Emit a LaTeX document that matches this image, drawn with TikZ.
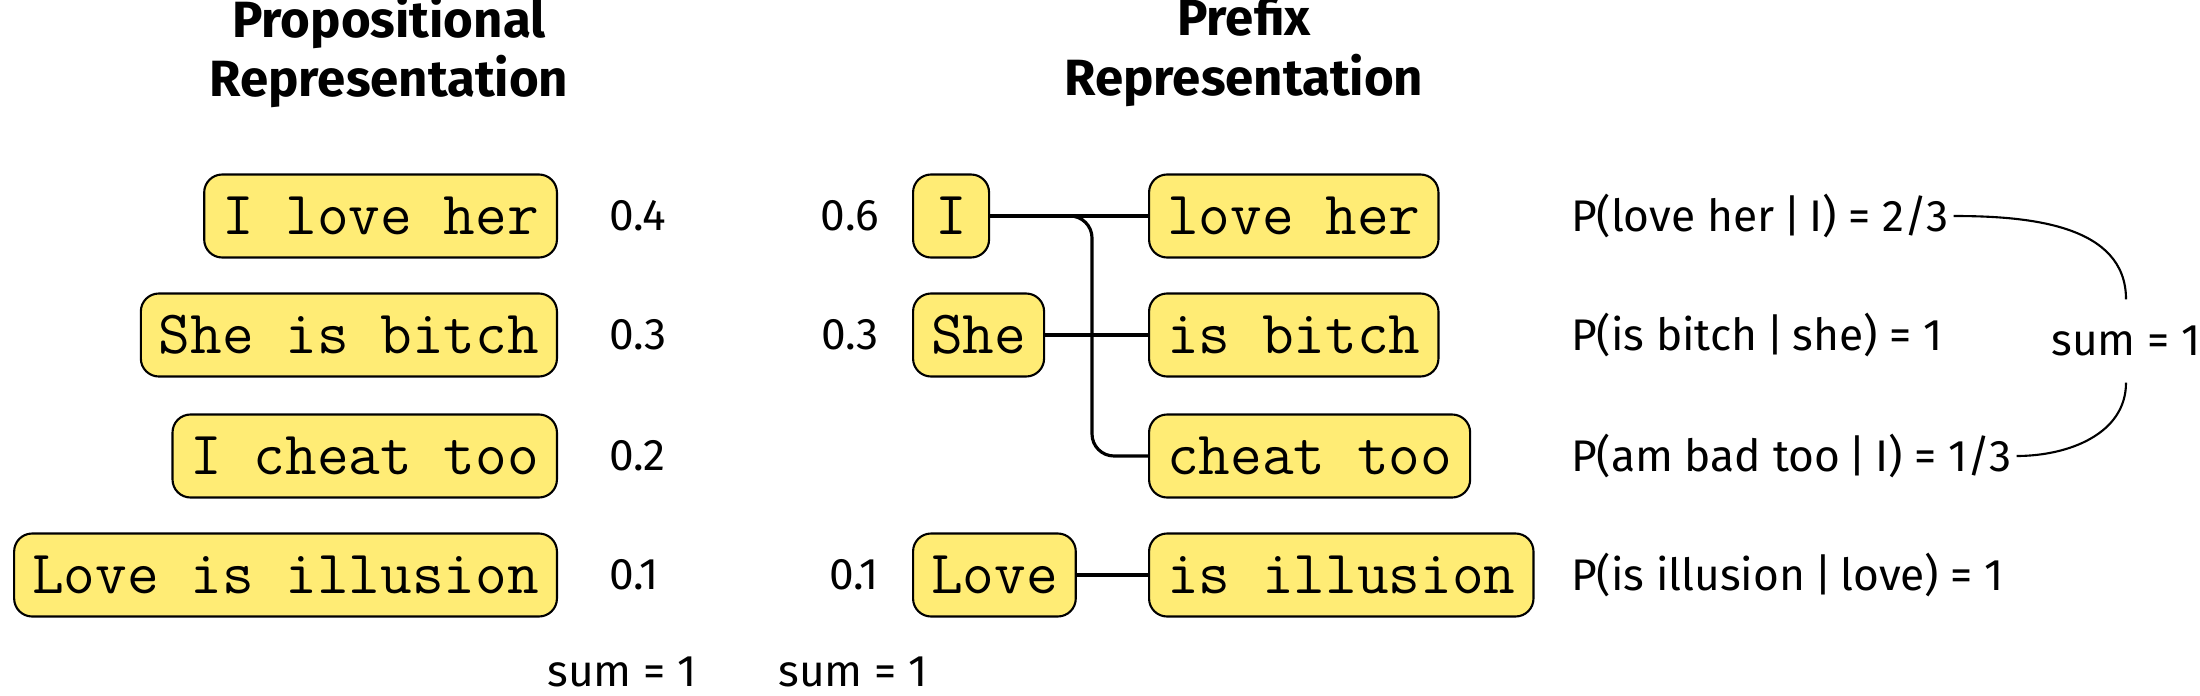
\documentclass[tikz,border=0pt]{standalone}
\usepackage{fontspec}
\setmainfont{Fira Sans}
\usetikzlibrary{positioning}
\definecolor{boxyellow}{RGB}{255,236,117}
\newcommand{\boxfont}{\ttfamily\fontsize{17.5}{20}\selectfont}
\newcommand{\given}{\kern2.5pt|\kern2.5pt}
\tikzset{font=\fontsize{12.6}{15}\selectfont}
\tikzset{wbox/.style={draw, line width=0.6pt, fill=boxyellow, rounded corners=0.18cm,
    minimum height=0.83cm, minimum width=0.76cm, inner xsep=0.18cm, font=\boxfont}}
\tikzset{num/.style={inner sep=1pt}}
\tikzset{title/.style={font=\fontsize{14.5}{17}\selectfont\bfseries, align=center}}

\begin{document}
\begin{tikzpicture}[line width=0.9pt]
  \useasboundingbox (0,0) rectangle (22,-6.96);
  \node[title] (tprop) at (3.89,-0.52) {Propositional\\Representation};
  \node[title] (tpref) at (12.44,-0.52) {Prefix\\Representation};
% whole sentences
  \node[wbox, anchor=east] (s1) at (5.58,-2.16) {I love her};
  \node[wbox, anchor=east] (s2) at (5.58,-3.35) {She is bitch};
  \node[wbox, anchor=east] (s3) at (5.58,-4.56) {I cheat too};
  \node[wbox, anchor=east] (s4) at (5.58,-5.75) {Love is illusion};
  \node[num, right=0.46cm of s1] (w1) {0.4};
  \node[num, right=0.46cm of s2] (w2) {0.3};
  \node[num, right=0.46cm of s3] (w3) {0.2};
  \node[num, right=0.46cm of s4] (w4) {0.1};
% prefixes and rests
  \node[wbox, anchor=west] (pI) at (9.12,-2.16) {I};
  \node[wbox, anchor=west] (pShe) at (9.12,-3.35) {She};
  \node[wbox, anchor=west] (pLove) at (9.12,-5.75) {Love};
  \node[num, left=0.28cm of pI] (v1) {0.6};
  \node[num, left=0.28cm of pShe] (v2) {0.3};
  \node[num, left=0.28cm of pLove] (v3) {0.1};
  \node[wbox, anchor=west] (r1) at (11.48,-2.16) {love her};
  \node[wbox, anchor=west] (r2) at (11.48,-3.35) {is bitch};
  \node[wbox, anchor=west] (r3) at (11.48,-4.56) {cheat too};
  \node[wbox, anchor=west] (r4) at (11.48,-5.75) {is illusion};
  \coordinate (jn) at (10.92,-3.5);
  \draw[rounded corners=0.22cm] (pI.east) -| (jn) |- (r3.west);
  \draw (pI.east) -- (r1.west);
  \draw (pShe.east) -- (r2.west);
  \draw (pLove.east) -- (r4.west);
% conditionals
  \node[num, anchor=west] (c1) at (15.66,-2.16) {P(love her\given I) = 2/3};
  \node[num, anchor=west] (c2) at (15.66,-3.35) {P(is bitch\given she) = 1};
  \node[num, anchor=west] (c3) at (15.66,-4.56) {P(am bad too\given I) = 1/3};
  \node[num, anchor=west] (c4) at (15.66,-5.75) {P(is illusion\given love) = 1};
  \node[num, inner ysep=0.25cm] (tot) at (21.26,-3.41) {sum = 1};
  \draw[line width=0.6pt] (c1.east) to[out=0,in=90] (tot.north);
  \draw[line width=0.6pt] (tot.south) to[out=-90,in=0] (c3.east);
  \node[num, anchor=base] (sumL) at (6.22,-6.86) {sum = 1};
  \node[num, anchor=base] (sumP) at (8.53,-6.86) {sum = 1};
\end{tikzpicture}
\end{document}
